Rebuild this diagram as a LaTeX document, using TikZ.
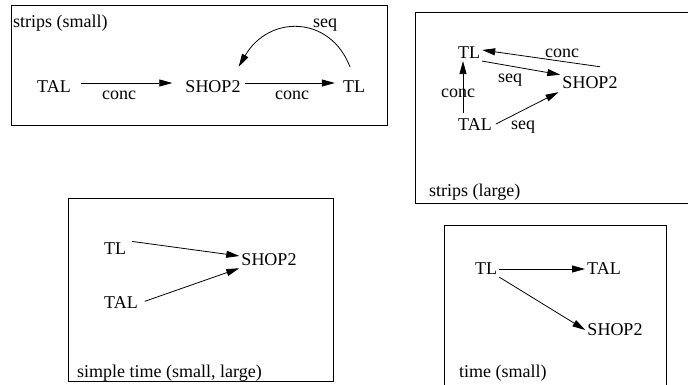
\documentclass[tikz,border=0pt]{standalone}
\usepackage{fontspec}
\setmainfont{Liberation Serif}
\usetikzlibrary{arrows.meta}
\begin{document}
\begin{tikzpicture}[x=1pt,y=-1pt,
	every node/.style={inner sep=2pt,font=\fontsize{18}{22}\selectfont},
	box/.style={draw,line width=0.9pt},
	arr/.style={-{Triangle[length=13pt,width=7pt]},line width=0.8pt},
	title/.style={anchor=west,inner sep=0pt}]
\useasboundingbox (0,0) rectangle (688,385);
\clip (0,0) rectangle (688,385);
% strips (small)
\draw[box] (11,5) rectangle (387,125);
\node[title] (t1) at (13,23) {strips (small)};
\node (tal1) at (54,87) {TAL};
\node (shop1) at (213,87) {SHOP2};
\node (tl1) at (354,87) {TL};
\draw[arr,shorten <=8pt,shorten >=11pt] ([yshift=4pt]tal1.east) -- ([yshift=4pt]shop1.west);
\draw[arr,shorten <=2pt,shorten >=6pt] ([yshift=4pt]shop1.east) -- ([yshift=4pt]tl1.west);
\draw[arr] ([shift={(-4,-12)}]tl1.north) .. controls +(-20,-52) and +(30,-52) .. ([shift={(-4,-12)}]shop1.north east);
\node (c1a) at (119,95) {conc};
\node (c1b) at (292,95) {conc};
\node (s1) at (325,25) {seq};
% strips (large)
\draw[box] (415,12) rectangle (700,203);
\node[title] (t2) at (429,192) {strips (large)};
\node (tl2) at (469,53) {TL};
\node (shop2) at (590,83) {SHOP2};
\node (tal2) at (475,125) {TAL};
\draw[arr] ([shift={(10,-8)}]shop2.north) -- ([yshift=3pt]tl2.east);
\draw[arr] (tl2.south east) -- (shop2.north west);
\draw[arr,shorten <=4pt] ([xshift=-12pt]tal2.north) -- ([xshift=-6pt]tl2.south);
\draw[arr,shorten <=2pt,shorten >=2pt] (tal2.east) -- (shop2.south west);
\node (c2a) at (562,53) {conc};
\node (s2a) at (510,80) {seq};
\node (c2b) at (458,93) {conc};
\node (s2b) at (523,127) {seq};
% simple time (small, large)
\draw[box] (68,198) rectangle (333,381);
\node[title] (t3) at (77,373) {simple time (small, large)};
\node (tl3) at (115,249) {TL};
\node (shop3) at (269,260) {SHOP2};
\node (tal3) at (121,303) {TAL};
\draw[arr,shorten <=4pt] (tl3.north east) -- ([yshift=4pt]shop3.west);
\draw[arr,shorten <=5pt] (tal3.east) -- (shop3.south west);
% time (small)
\draw[box] (444,225) rectangle (666,395);
\node[title] (t4) at (459,373) {time (small)};
\node (tl4) at (486,269) {TL};
\node (tal4) at (604,269) {TAL};
\node (shop4) at (615,330) {SHOP2};
\draw[arr] (tl4.east) -- (tal4.west);
\draw[arr] (tl4.south east) -- (shop4.west);
\end{tikzpicture}
\end{document}
